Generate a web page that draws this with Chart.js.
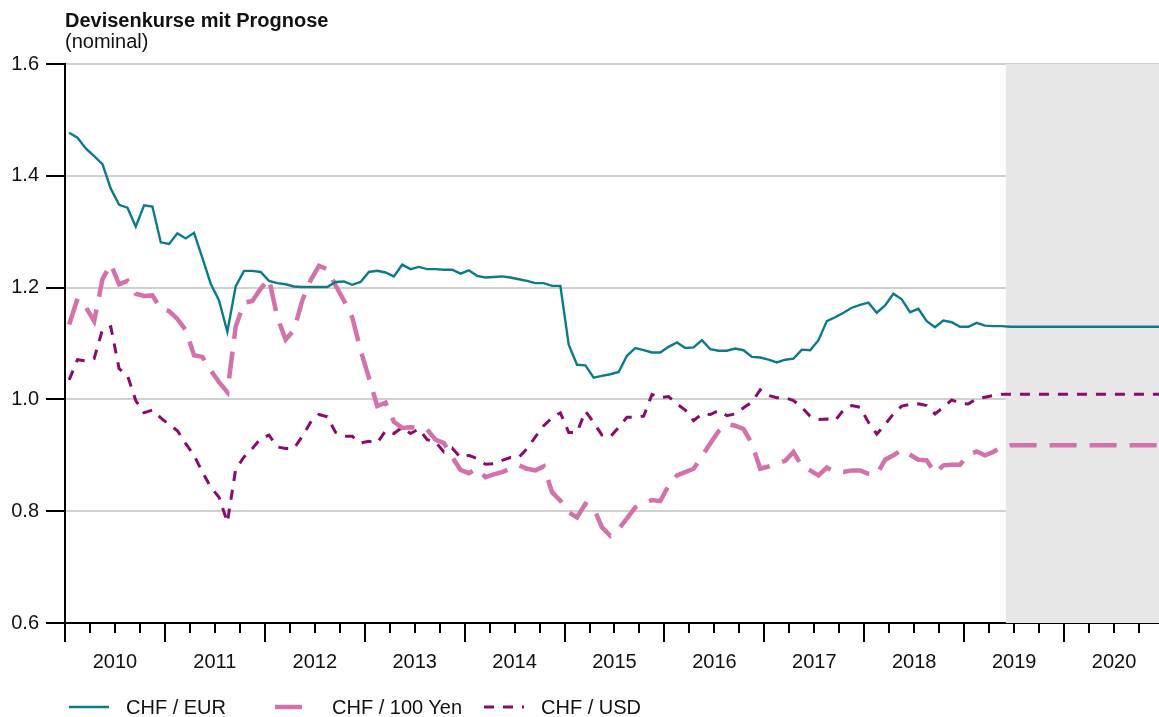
<!DOCTYPE html>
<html>
<head>
<meta charset="utf-8">
<script src="https://cdn.jsdelivr.net/npm/chart.js@4.4.1/dist/chart.umd.min.js"></script>
<style>
  body { margin: 0; background: #fff; font-family: "Liberation Sans", Arial, sans-serif; color: #111; }
  #wrap { position: relative; width: 1159px; height: 717px; overflow: hidden; }
  #myChart { position: absolute; left: 0; top: 0; }
  .txt { position: absolute; font-size: 20px; line-height: 20px; white-space: nowrap; }
  .leg { position: absolute; top: 697px; height: 20px; }
  .leg svg { position: absolute; left: 0; top: 0; }
  .leg span { position: absolute; top: 0; font-size: 20px; line-height: 20px; white-space: nowrap; }
</style>
</head>
<body>
<div id="wrap">
  <canvas id="myChart" width="1159" height="717"></canvas>
  <div class="txt" style="left:65px; top:10px; font-weight:bold;">Devisenkurse mit Prognose</div>
  <div class="txt" style="left:65px; top:31px;">(nominal)</div>
  <div id="legend"></div>
</div>
<script>
// monthly values, Jan 2010 - May 2019
var startYear = 2010;
var chfEur = [
  1.477, 1.468, 1.449, 1.435, 1.421, 1.377, 1.348, 1.343, 1.309, 1.347, 1.345, 1.281,
  1.278, 1.297, 1.288, 1.298, 1.253, 1.207, 1.177, 1.121, 1.202, 1.230, 1.230, 1.228,
  1.212, 1.208, 1.206, 1.202, 1.201, 1.201, 1.201, 1.201, 1.210, 1.211, 1.205, 1.210,
  1.228, 1.230, 1.227, 1.220, 1.241, 1.233, 1.237, 1.233, 1.233, 1.232, 1.232, 1.225,
  1.231, 1.221, 1.218, 1.219, 1.220, 1.218, 1.215, 1.212, 1.208, 1.208, 1.203, 1.203,
  1.098, 1.062, 1.061, 1.039, 1.042, 1.045, 1.049, 1.078, 1.092, 1.088, 1.084, 1.084,
  1.094, 1.102, 1.092, 1.093, 1.106, 1.090, 1.087, 1.087, 1.091, 1.088, 1.076, 1.075,
  1.071, 1.066, 1.071, 1.073, 1.089, 1.088, 1.106, 1.140, 1.147, 1.155, 1.164, 1.169,
  1.173, 1.155, 1.168, 1.189, 1.179, 1.156, 1.162, 1.140, 1.129, 1.141, 1.138, 1.130,
  1.130, 1.137, 1.132, 1.131, 1.131
];
var chfYen = [
  1.134, 1.180, 1.165, 1.140, 1.215, 1.242, 1.206, 1.212, 1.189, 1.185, 1.186, 1.162,
  1.158, 1.144, 1.124, 1.079, 1.076, 1.052, 1.031, 1.013, 1.130, 1.173, 1.176, 1.198,
  1.216, 1.147, 1.107, 1.124, 1.177, 1.213, 1.239, 1.233, 1.204, 1.177, 1.147, 1.088,
  1.039, 0.988, 0.994, 0.960, 0.949, 0.950, 0.949, 0.946, 0.928, 0.922, 0.897, 0.874,
  0.868, 0.876, 0.861, 0.866, 0.870, 0.876, 0.882, 0.876, 0.873, 0.880, 0.834, 0.819,
  0.798, 0.789, 0.813, 0.806, 0.771, 0.756, 0.768, 0.787, 0.807, 0.814, 0.820, 0.818,
  0.846, 0.864, 0.870, 0.876, 0.898, 0.921, 0.943, 0.956, 0.953, 0.947, 0.921, 0.876,
  0.880, 0.885, 0.890, 0.906, 0.880, 0.873, 0.864, 0.878, 0.870, 0.870, 0.873, 0.873,
  0.867, 0.866, 0.892, 0.900, 0.910, 0.901, 0.892, 0.891, 0.868, 0.882, 0.883, 0.883,
  0.901, 0.907, 0.900, 0.906, 0.915
];
var chfUsd = [
  1.035, 1.071, 1.069, 1.073, 1.125, 1.130, 1.055, 1.043, 0.998, 0.976, 0.981, 0.967,
  0.955, 0.944, 0.921, 0.900, 0.870, 0.843, 0.825, 0.780, 0.875, 0.897, 0.912, 0.930,
  0.936, 0.915, 0.912, 0.912, 0.934, 0.959, 0.973, 0.969, 0.941, 0.934, 0.934, 0.922,
  0.925, 0.922, 0.944, 0.939, 0.950, 0.939, 0.947, 0.928, 0.924, 0.906, 0.913, 0.896,
  0.900, 0.894, 0.884, 0.885, 0.891, 0.896, 0.896, 0.912, 0.933, 0.953, 0.967, 0.976,
  0.941, 0.941, 0.979, 0.959, 0.936, 0.933, 0.950, 0.968, 0.968, 0.970, 1.009, 1.003,
  1.005, 0.992, 0.981, 0.962, 0.974, 0.973, 0.980, 0.971, 0.974, 0.985, 0.995, 1.017,
  1.007, 1.003, 1.003, 0.998, 0.986, 0.970, 0.964, 0.965, 0.962, 0.981, 0.989, 0.986,
  0.959, 0.938, 0.955, 0.974, 0.988, 0.991, 0.992, 0.989, 0.974, 0.986, 0.999, 0.993,
  0.992, 1.001, 1.004, 1.007, 1.009
];
// forecast: month index from Jan 2010 (Jun 2019, Dec 2020)
var fcMonths = [113, 131];
var fcEur = [1.130, 1.130];
var fcYen = [0.918, 0.918];
var fcUsd = [1.009, 1.009];
var forecastStart = 2019 + 5 / 12;

var yTicks = [0.6, 0.8, 1.0, 1.2, 1.4, 1.6];
var names = ['CHF / EUR', 'CHF / 100 Yen', 'CHF / USD'];
var colors = ['#0b7b8c', '#d470ac', '#8a0b6c'];
var widths = [2.4, 4.5, 3];
var dashes = [[], [27, 13], [10, 9]];

function toPoints(hist, fcM, fcV) {
  var pts = [];
  for (var i = 0; i < hist.length; i++) {
    pts.push({ x: startYear + (i + 0.5) / 12, y: hist[i] });
  }
  for (var j = 0; j < fcM.length; j++) {
    pts.push({ x: startYear + (fcM[j] + 0.5) / 12, y: fcV[j] });
  }
  return pts;
}

var series = [
  toPoints(chfEur, fcMonths, fcEur),
  toPoints(chfYen, fcMonths, fcYen),
  toPoints(chfUsd, fcMonths, fcUsd)
];

var datasets = [];
for (var k = 0; k < 3; k++) {
  datasets.push({
    label: names[k],
    data: series[k],
    borderColor: colors[k],
    borderWidth: widths[k],
    borderDash: dashes[k],
    borderCapStyle: 'butt',
    pointRadius: 0,
    tension: 0,
    fill: false
  });
}

// grey forecast area + year/quarter tick marks
var extras = {
  id: 'extras',
  beforeDatasetsDraw: function (chart) {
    var ctx = chart.ctx, a = chart.chartArea, xs = chart.scales.x;
    var x0 = xs.getPixelForValue(forecastStart);
    ctx.save();
    ctx.fillStyle = '#e7e7e7';
    ctx.fillRect(x0, a.top, a.right - x0, a.bottom - a.top);
    ctx.restore();
  },
  afterDraw: function (chart) {
    var ctx = chart.ctx, a = chart.chartArea, xs = chart.scales.x;
    ctx.save();
    ctx.strokeStyle = '#000';
    ctx.lineWidth = 2;
    for (var q = 0; q <= 44; q++) {
      var v = startYear + q / 4;
      var x = Math.round(xs.getPixelForValue(v));
      if (x > a.right) break;
      var len = (q % 4 === 0) ? 19 : 10;
      ctx.beginPath();
      ctx.moveTo(x, a.bottom);
      ctx.lineTo(x, a.bottom + len);
      ctx.stroke();
    }
    ctx.restore();
  }
};

var chart = new Chart(document.getElementById('myChart'), {
  type: 'line',
  data: { datasets: datasets },
  plugins: [extras],
  options: {
    responsive: false,
    animation: false,
    layout: { padding: { top: 64, left: 0, right: 0, bottom: 0 } },
    plugins: { legend: { display: false }, title: { display: false }, tooltip: { enabled: false } },
    scales: {
      x: {
        type: 'linear',
        min: 2010,
        max: 2020.95,
        afterFit: function (s) { s.height = 94; s.paddingLeft = 0; s.paddingRight = 0; },
        grid: { display: false, drawTicks: false },
        border: { display: true, color: '#000', width: 2 },
        ticks: {
          stepSize: 0.25,
          autoSkip: false,
          maxRotation: 0,
          padding: 27,
          color: '#111',
          font: { family: 'Liberation Sans', size: 20 },
          callback: function (v) {
            return (Math.abs(v % 1 - 0.5) < 0.001) ? String(Math.floor(v)) : '';
          }
        }
      },
      y: {
        min: 0.6,
        max: 1.6,
        afterFit: function (s) { s.width = 65; },
        afterBuildTicks: function (s) {
          s.ticks = yTicks.map(function (v) { return { value: v }; });
        },
        grid: { color: '#d0d0d0', lineWidth: 2, tickColor: '#000', tickWidth: 2, tickLength: 19 },
        border: { display: true, color: '#000', width: 2 },
        ticks: {
          padding: 7,
          color: '#111',
          font: { family: 'Liberation Sans', size: 20 },
          callback: function (v) { return Number(v).toFixed(1); }
        }
      }
    }
  }
});

// legend in fixed columns
var legX = [69, 275, 484];
var legHtml = '';
for (var n = 0; n < 3; n++) {
  var da = dashes[n].length ? ' stroke-dasharray="' + dashes[n].join(',') + '"' : '';
  legHtml += '<div class="leg" style="left:' + legX[n] + 'px">' +
    '<svg width="44" height="20"><line x1="0" y1="10" x2="40" y2="10" stroke="' + colors[n] +
    '" stroke-width="' + widths[n] + '"' + da + '/></svg>' +
    '<span style="left:57px">' + names[n] + '</span></div>';
}
document.getElementById('legend').innerHTML = legHtml;
</script>
</body>
</html>
